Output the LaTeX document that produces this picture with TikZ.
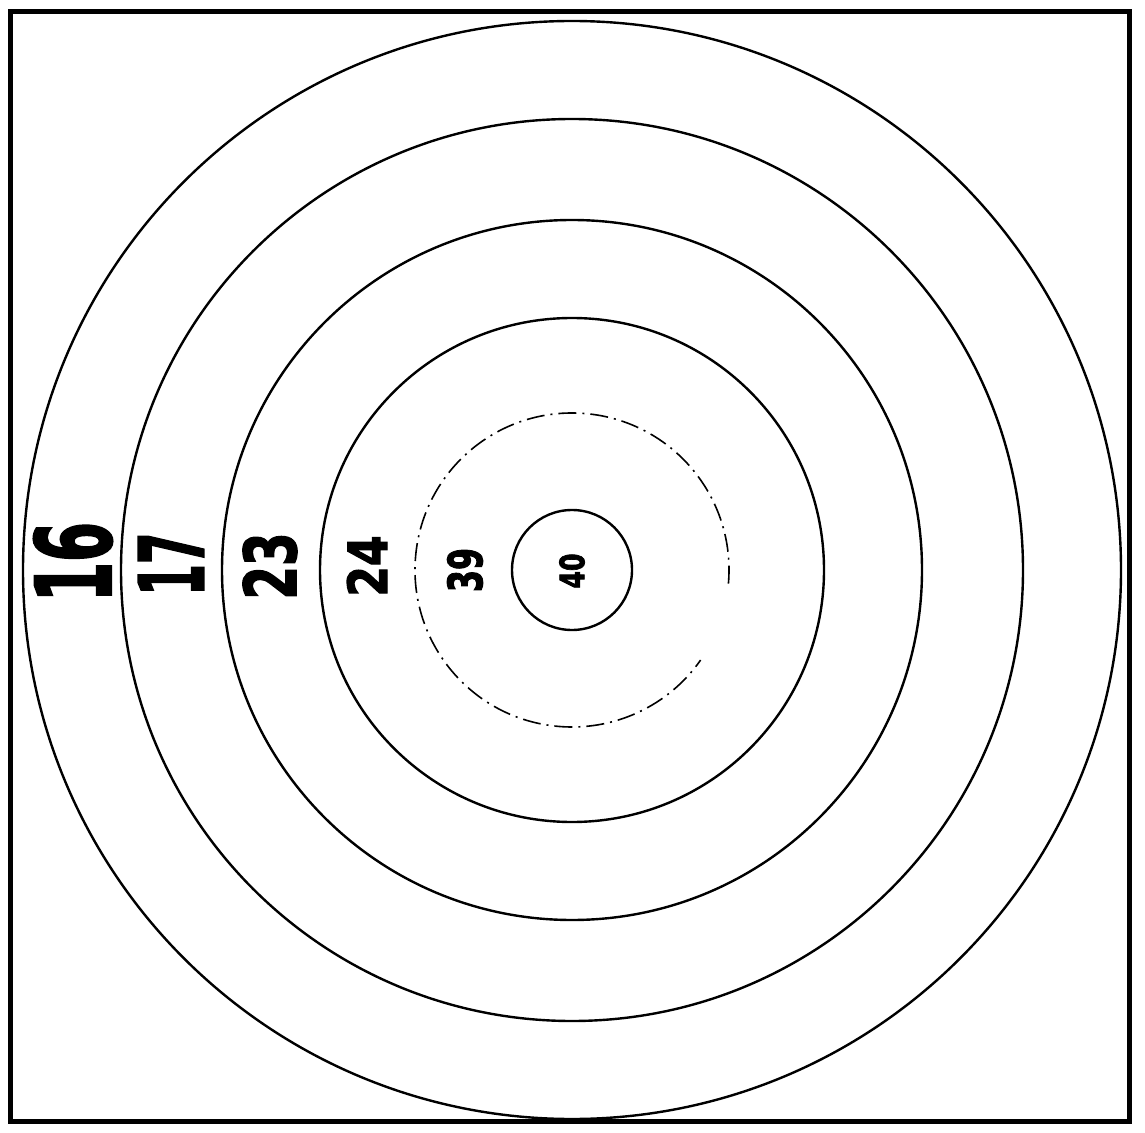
\documentclass[tikz,border=0pt]{standalone}
\usepackage{fontspec}
\usepackage{graphicx}
\usetikzlibrary{calc}
\newfontfamily\numfont{DejaVu Sans}[BoldFeatures={FakeBold=2.5}]
\tikzset{
  ring/.style={draw=black, line width=1.2pt},
  ringdd/.style={draw=black, line width=0.8pt, dash pattern=on 9pt off 3pt on 1pt off 3pt},
  frame/.style={draw=black, line width=2.5pt},
  lbl/.style={inner sep=0pt, outer sep=0pt, rotate=90, font=\numfont\bfseries}
}
\newcommand{\ringlabel}[3]{\resizebox{#1pt}{#2pt}{#3}}
\begin{document}
\begin{tikzpicture}[x=0.5pt, y=-0.5pt]
  \useasboundingbox (0,0) rectangle (1145,1133);
  \fill[white] (0,0) rectangle (1145,1133);
  % frame
  \draw[frame] (10,12) rectangle (1129,1121);
  \coordinate (c) at (572,570);
  % rings
  \draw[ring] (c) circle [radius=549];
  \draw[ring] (c) circle [radius=451];
  \draw[ring] (c) circle [radius=350];
  \draw[ring] (c) circle [radius=252];
  \draw[ringdd] ($(c)+(5:157)$) arc[start angle=5, end angle=-325, radius=157];
  \draw[ring] (c) circle [radius=60];
  % labels
  \node[lbl] (l16) at (73,562) {\ringlabel{40}{38.5}{16}};
  \node[lbl] (l17) at (171,564) {\ringlabel{31.5}{32.5}{17}};
  \node[lbl] (l23) at (270,566) {\ringlabel{33.5}{26.5}{23}};
  \node[lbl] (l24) at (367,566) {\ringlabel{30.5}{20}{24}};
  \node[lbl] (l39) at (465,570) {\ringlabel{22}{17.5}{39}};
  \node[lbl] (l40) at (572,571) {\ringlabel{17.5}{12.5}{40}};
\end{tikzpicture}
\end{document}
